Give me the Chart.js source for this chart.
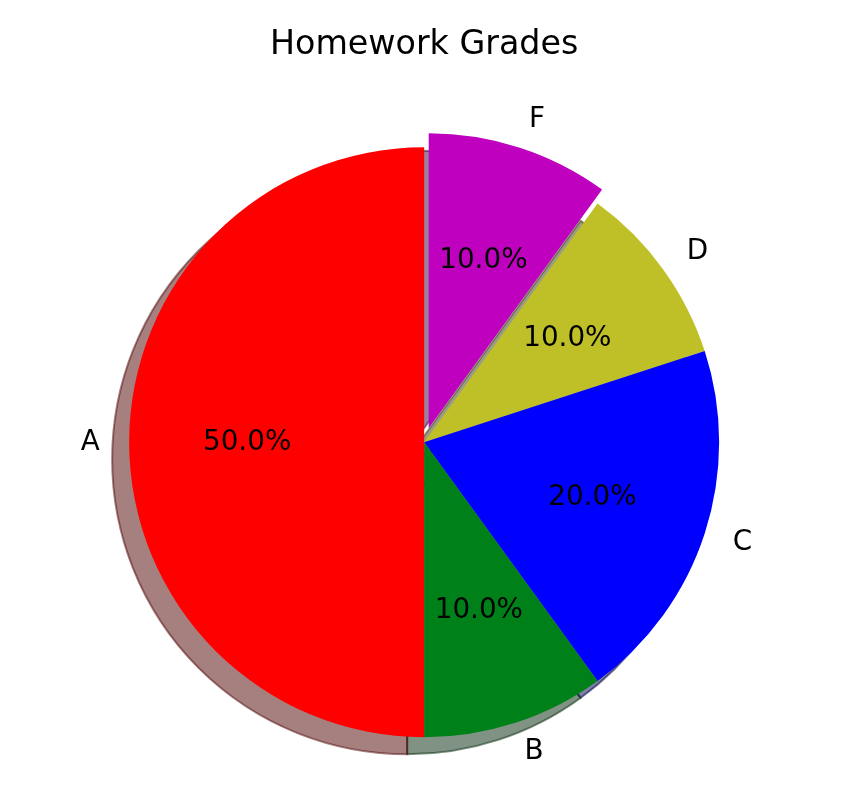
<!DOCTYPE html>
<html>
<head>
<meta charset="utf-8">
<script src="https://cdn.jsdelivr.net/npm/chart.js@4/dist/chart.umd.min.js"></script>
<style>
  html, body { margin: 0; padding: 0; background: #ffffff; }
  #wrap { width: 856px; height: 804px; }
</style>
</head>
<body>
<div id="wrap"><canvas id="c" width="856" height="804"></canvas></div>
<script>
// ---- data ----
const categories = ['A', 'B', 'C', 'D', 'F'];
const shares = [50, 10, 20, 10, 10];
const sliceColors = ['#ff0000', '#008018', '#0000ff', '#bfbf28', '#bf00bf'];
const explodeFlags = [0, 0, 0, 0, 1];
const chartTitle = 'Homework Grades';

// ---- style constants ----
const FONT = '"DejaVu Sans", sans-serif';
const TEXT_SIZE = 27.8;
const TITLE_SIZE = 33.3;
const PIE_RADIUS = 295;
const EXPLODE_FRAC = 0.05;
const LABEL_DIST = 1.1;
const PCT_DIST = 0.6;
const SHADOW_DX = -17;
const SHADOW_DY = 17;

// matplotlib draws counter-clockwise from the top; Chart.js clockwise -> reverse order
const order = categories.map((_, i) => i).reverse();
const total = shares.reduce((a, b) => a + b, 0);

function shadowColor(hex) {
  const n = parseInt(hex.slice(1), 16);
  const r = ((n >> 16) & 255) * 0.3, g = ((n >> 8) & 255) * 0.3, b = (n & 255) * 0.3;
  return `rgba(${r.toFixed(1)},${g.toFixed(1)},${b.toFixed(1)},0.5)`;
}

const explodePlugin = {
  id: 'explode',
  afterDatasetsUpdate(chart) {
    const meta = chart.getDatasetMeta(0);
    meta.data.forEach((arc, i) => {
      const k = order[i];
      if (!explodeFlags[k]) return;
      const mid = (arc.startAngle + arc.endAngle) / 2;
      const d = EXPLODE_FRAC * arc.outerRadius;
      arc.x += Math.cos(mid) * d;
      arc.y += Math.sin(mid) * d;
    });
  }
};

const shadowPlugin = {
  id: 'pieShadow',
  beforeDatasetsDraw(chart) {
    const ctx = chart.ctx;
    const meta = chart.getDatasetMeta(0);
    ctx.save();
    ctx.translate(SHADOW_DX, SHADOW_DY);
    ctx.lineWidth = 2;
    ctx.lineJoin = 'round';
    meta.data.forEach((arc, i) => {
      const col = shadowColor(sliceColors[order[i]]);
      ctx.beginPath();
      ctx.moveTo(arc.x, arc.y);
      ctx.arc(arc.x, arc.y, arc.outerRadius, arc.startAngle, arc.endAngle);
      ctx.closePath();
      ctx.fillStyle = col;
      ctx.fill();
      ctx.strokeStyle = col;
      ctx.stroke();
    });
    ctx.restore();
  }
};

const textPlugin = {
  id: 'pieText',
  afterDatasetsDraw(chart) {
    const ctx = chart.ctx;
    const meta = chart.getDatasetMeta(0);
    const ca = chart.chartArea;
    const cx0 = (ca.left + ca.right) / 2;
    const base = 0.276 * TEXT_SIZE;
    ctx.save();
    ctx.font = `${TEXT_SIZE}px ${FONT}`;
    ctx.fillStyle = '#000000';
    ctx.textBaseline = 'alphabetic';
    meta.data.forEach((arc, i) => {
      const k = order[i];
      const mid = (arc.startAngle + arc.endAngle) / 2;
      const r = arc.outerRadius;
      const c = Math.cos(mid), s = Math.sin(mid);
      const lx = arc.x + LABEL_DIST * r * c;
      const ly = arc.y + LABEL_DIST * r * s;
      ctx.textAlign = (lx - cx0) > 0 ? 'left' : 'right';
      ctx.fillText(categories[k], lx, ly + base);
      const pct = (shares[k] / total * 100).toFixed(1) + '%';
      ctx.textAlign = 'center';
      ctx.fillText(pct, arc.x + PCT_DIST * r * c, arc.y + PCT_DIST * r * s + base);
    });
    ctx.restore();
  }
};

new Chart(document.getElementById('c'), {
  type: 'pie',
  data: {
    labels: order.map(k => categories[k]),
    datasets: [{
      data: order.map(k => shares[k]),
      backgroundColor: order.map(k => sliceColors[k]),
      borderWidth: 0,
      radius: PIE_RADIUS,
      clip: false
    }]
  },
  options: {
    responsive: false,
    animation: false,
    devicePixelRatio: 1,
    rotation: 0,
    layout: { padding: { top: 0, left: 0, right: 7.7, bottom: 0 } },
    plugins: {
      legend: { display: false },
      tooltip: { enabled: false },
      title: {
        display: true,
        text: chartTitle,
        color: '#000000',
        font: { family: FONT, size: TITLE_SIZE, weight: 'normal', lineHeight: 1.2 },
        padding: { top: 25, bottom: 15.6 }
      }
    }
  },
  plugins: [explodePlugin, shadowPlugin, textPlugin]
});
</script>
</body>
</html>
